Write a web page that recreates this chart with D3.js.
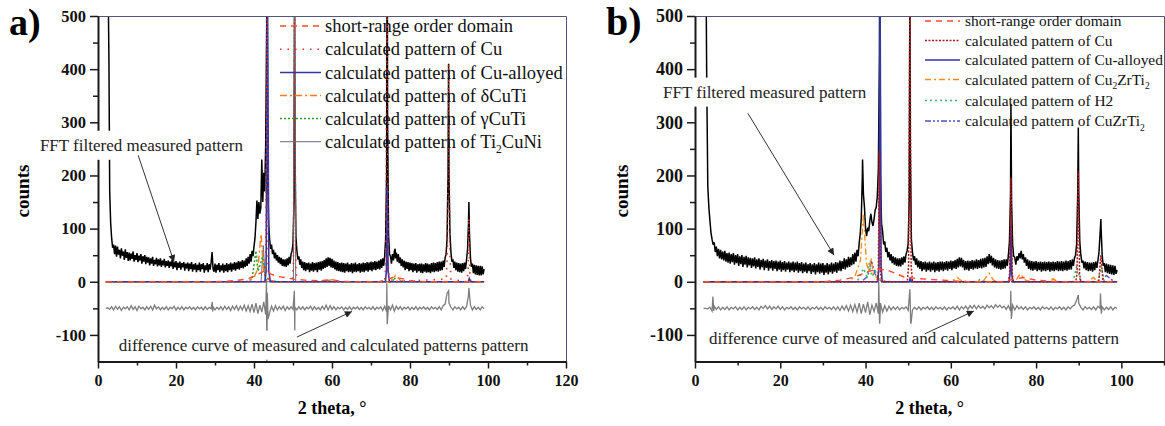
<!DOCTYPE html>
<html>
<head>
<meta charset="utf-8">
<script src="https://cdn.jsdelivr.net/npm/d3@7"></script>
<style>
body { margin: 0; background: #fff; }
svg { display: block; font-family: "Liberation Serif", "Times New Roman", serif; }
</style>
</head>
<body>
<svg id="chart"></svg>
<script>
// ---- panel a: measured pattern, 0.25 deg grid from 3.0 deg (one row = 5 deg), plus peak apexes ----
var aMeasured = [
    170, 110, 82, 64, 70, 52, 68, 47, 66, 51, 60, 44, 63, 49, 57, 41, 61, 45, 56, 39,
    55, 40, 53, 43, 57, 38, 50, 41, 54, 37, 49, 40, 52, 34, 48, 38, 50, 33, 47, 36,
    46, 31, 44, 34, 47, 30, 41, 33, 45, 29, 42, 31, 44, 28, 40, 31, 43, 27, 39, 30,
    40, 26, 38, 29, 41, 24, 37, 27, 39, 22, 36, 26, 38, 23, 35, 27, 37, 21, 34, 25,
    36, 20, 34, 24, 37, 19, 33, 23, 35, 18, 32, 22, 36, 19, 33, 24, 35, 17, 31, 22,
    35, 18, 33, 23, 36, 56, 24, 19, 34, 17, 32, 22, 35, 18, 31, 21, 34, 17, 32, 20,
    35, 18, 33, 22, 36, 19, 34, 23, 37, 21, 36, 24, 39, 23, 38, 26, 41, 25, 40, 28,
    44, 30, 47, 34, 52, 38, 58, 48, 66, 82, 112, 153, 118, 150, 128, 140, 230, 150, 205, 170,
    260, 480, 200, 110, 80, 62, 70, 52, 60, 44, 55, 40, 50, 36, 47, 33, 45, 30, 42, 29,
    42, 28, 44, 31, 47, 34, 52, 58, 72, 150, 260, 85, 58, 42, 48, 32, 42, 26, 38, 22,
    37, 20, 35, 23, 36, 18, 34, 21, 37, 19, 35, 22, 36, 18, 37, 23, 38, 21, 39, 24,
    41, 26, 44, 28, 46, 30, 45, 27, 43, 26, 40, 23, 38, 21, 37, 20, 35, 19, 36, 18,
    35, 17, 34, 20, 36, 18, 33, 19, 35, 16, 34, 19, 36, 18, 33, 20, 35, 17, 34, 19,
    36, 18, 35, 21, 37, 19, 36, 22, 38, 20, 37, 23, 39, 22, 38, 24, 40, 23, 42, 26,
    44, 30, 48, 80, 200, 300, 90, 52, 48, 34, 52, 40, 58, 44, 55, 38, 52, 35, 46, 30,
    42, 27, 40, 22, 38, 24, 37, 20, 36, 22, 35, 18, 34, 21, 35, 17, 33, 20, 34, 17,
    34, 16, 33, 19, 35, 17, 34, 18, 33, 16, 35, 19, 36, 18, 35, 20, 37, 19, 38, 21,
    38, 22, 40, 28, 45, 52, 80, 200, 200, 90, 55, 38, 42, 26, 38, 22, 36, 19, 35, 18,
    34, 17, 35, 20, 36, 24, 42, 60, 110, 90, 45, 28, 34, 16, 32, 14, 31, 13, 30, 12,
    30, 12, 29, 14, 24
];
var aMeasuredPeaks = [[2.6, 560], [2.8, 420], [43.3, 560], [43.4, 560], [50.4, 560], [74.1, 560],
    [74.2, 540], [76.2, 62], [89.9, 410], [95.1, 150]];

// difference curve, 0.5 deg grid from 2.0 deg, plus spikes
var aDiff = [
    -50, -49, -52, -47, -53, -46, -52, -47, -54, -48,
    -51, -47, -53, -45, -52, -47, -54, -46, -51, -48,
    -53, -47, -52, -46, -53, -44, -51, -47, -53, -48,
    -52, -47, -53, -48, -51, -46, -53, -48, -52, -47,
    -53, -48, -51, -47, -52, -48, -53, -47, -51, -48,
    -53, -47, -52, -48, -51, -47, -53, -48, -52, -47,
    -53, -46, -52, -47, -54, -46, -52, -45, -54, -46,
    -53, -44, -55, -45, -56, -42, -58, -40, -60, -44,
    -57, -38, -62, -42, -58, -46, -55, -45, -53, -47,
    -52, -46, -54, -47, -52, -47, -52, -48, -53, -47,
    -52, -47, -53, -48, -51, -46, -53, -47, -52, -48,
    -53, -46, -52, -44, -53, -45, -52, -47, -53, -48,
    -51, -47, -53, -48, -52, -47, -53, -48, -51, -47,
    -52, -48, -53, -47, -51, -48, -52, -47, -53, -48,
    -51, -47, -54, -46, -56, -45, -53, -44, -55, -46,
    -52, -47, -53, -48, -51, -47, -53, -48, -52, -47,
    -53, -48, -51, -47, -52, -48, -53, -47, -51, -48,
    -52, -47, -53, -45, -42, -22, -40, -48, -53, -47,
    -51, -48, -53, -47, -52, -47, -25, -44, -53, -47,
    -52, -48, -53, -47, -51
];
var aDiffSpikes = [[29.3, -38], [29.4, -56], [43.1, -30], [43.2, 5], [43.3, -165], [43.4, -20],
    [43.6, -70], [50.35, -17], [50.45, -92], [74.05, -3], [74.15, -80], [89.9, -17], [95.1, -12]];

// calculated patterns, panel a
var aShortRange = [[2, 0], [30, 0], [35, 2], [38, 5], [40, 10], [41.5, 16], [42.5, 20], [43.5, 18],
    [44.5, 14], [46, 10], [48, 8], [50, 5], [53, 3], [57, 2], [60, 4], [62, 1], [66, 0], [72, 0],
    [74, 4], [76, 9], [78, 6], [80, 2], [84, 0], [99, 0]];
var aCu = [[2, 0], [42.7, 0], [43.0, 30], [43.3, 560], [43.6, 30], [43.9, 0], [49.8, 0], [50.1, 30],
    [50.4, 560], [50.7, 30], [51.0, 0], [73.5, 0], [73.8, 30], [74.1, 560], [74.4, 30], [74.7, 0],
    [89.3, 5], [89.6, 60], [89.9, 410], [90.2, 60], [90.5, 5], [94.6, 0], [94.9, 20], [95.1, 120],
    [95.3, 20], [95.6, 0], [99, 0]];
var aCuAlloyed = [[2, 0], [42.8, 0], [43.1, 20], [43.45, 560], [43.8, 20], [44.2, 0], [73.7, 0],
    [73.95, 20], [74.15, 180], [74.4, 20], [74.7, 0], [94.9, 0], [95.2, 6], [95.5, 0], [99, 0]];
var aDeltaCuTi = [[2, 0], [38, 0], [40, 8], [41, 25], [41.8, 90], [42.4, 25], [43, 10], [44, 3],
    [46, 0], [58, 0], [60, 4], [62, 0], [75, 0], [76.3, 12], [77.5, 3], [79, 0], [99, 0]];
var aGammaCuTi = [[2, 0], [38, 0], [39.5, 5], [40.5, 58], [41.0, 20], [41.5, 30], [42.3, 50],
    [42.8, 12], [44, 2], [46, 0], [57, 0], [58, 3], [59, 0], [75.5, 0], [76, 8], [76.5, 0], [99, 0]];
var aTi2CuNi = [[2, 0], [41.8, 0], [42.4, 68], [42.9, 0], [50.1, 0], [50.4, 560], [50.7, 0], [99, 0]];

// ---- panel b ----
var bMeasured = [
    180, 140, 115, 92, 80, 70, 74, 56, 66, 48, 62, 44, 60, 42, 57, 40, 58, 38, 54, 36,
    55, 34, 52, 37, 54, 32, 50, 35, 52, 30, 48, 33, 50, 28, 47, 32, 49, 27, 46, 31,
    45, 26, 44, 29, 46, 25, 42, 28, 44, 23, 41, 27, 43, 22, 40, 26, 42, 21, 39, 25,
    41, 21, 39, 24, 40, 20, 38, 23, 40, 19, 37, 22, 39, 19, 36, 23, 38, 18, 36, 21,
    38, 18, 36, 21, 38, 17, 35, 20, 37, 16, 34, 19, 36, 16, 33, 20, 35, 15, 33, 18,
    35, 14, 33, 18, 36, 15, 34, 17, 35, 13, 32, 17, 35, 14, 33, 18, 36, 15, 34, 19,
    37, 17, 36, 21, 40, 20, 39, 24, 44, 23, 42, 27, 47, 28, 46, 31, 52, 33, 55, 38,
    60, 48, 72, 90, 120, 200, 165, 140, 100, 86, 102, 95, 115, 128, 112, 105, 118, 135, 140, 160,
    210, 420, 200, 110, 95, 70, 76, 56, 64, 46, 56, 40, 52, 35, 48, 32, 46, 30, 44, 29,
    44, 29, 46, 32, 48, 36, 52, 58, 72, 160, 250, 80, 56, 40, 48, 32, 44, 27, 40, 24,
    39, 20, 37, 23, 38, 19, 36, 22, 38, 19, 36, 22, 38, 18, 36, 21, 37, 19, 38, 22,
    38, 20, 37, 23, 39, 21, 38, 24, 40, 22, 39, 25, 41, 24, 43, 27, 46, 29, 45, 27,
    41, 22, 39, 23, 40, 21, 39, 24, 41, 23, 40, 25, 42, 24, 41, 26, 43, 25, 44, 27,
    45, 28, 48, 33, 52, 35, 49, 31, 45, 27, 42, 25, 41, 24, 40, 23, 41, 24, 42, 25,
    42, 30, 50, 75, 160, 150, 70, 48, 46, 32, 48, 40, 54, 44, 58, 42, 52, 36, 46, 30,
    42, 24, 40, 22, 39, 21, 38, 23, 39, 20, 37, 22, 38, 19, 37, 21, 38, 20, 37, 22,
    38, 19, 37, 21, 38, 20, 37, 22, 39, 20, 38, 21, 39, 20, 38, 22, 40, 21, 39, 23,
    41, 23, 42, 30, 45, 50, 70, 160, 170, 75, 50, 36, 40, 25, 38, 22, 37, 20, 36, 21,
    36, 19, 37, 22, 38, 26, 40, 55, 90, 100, 50, 30, 35, 18, 34, 16, 33, 15, 32, 14,
    31, 13, 30, 15, 22
];
var bMeasuredPeaks = [[2.6, 560], [2.75, 380], [39.3, 230], [43.3, 560], [43.4, 560], [50.4, 560],
    [74.1, 335], [89.9, 290], [95.2, 118]];

var bDiff = [
    -50, -50, -51, -48, -55, -46, -52, -47, -53, -48,
    -52, -47, -53, -48, -51, -47, -53, -48, -52, -47,
    -53, -48, -51, -47, -52, -48, -53, -46, -50, -45,
    -51, -46, -52, -47, -51, -46, -52, -47, -53, -48,
    -51, -47, -52, -48, -53, -47, -51, -48, -52, -47,
    -53, -48, -51, -47, -52, -48, -53, -47, -51, -48,
    -52, -47, -53, -47, -54, -46, -53, -45, -55, -44,
    -56, -43, -57, -40, -60, -42, -58, -38, -62, -44,
    -56, -40, -60, -44, -57, -45, -55, -46, -53, -47,
    -52, -47, -53, -48, -51, -47, -54, -46, -53, -48,
    -52, -47, -53, -48, -51, -47, -52, -48, -53, -47,
    -51, -48, -52, -47, -53, -48, -51, -47, -52, -46,
    -53, -47, -51, -46, -52, -45, -50, -44, -51, -45,
    -50, -46, -51, -44, -49, -45, -50, -43, -48, -44,
    -49, -46, -52, -45, -55, -44, -53, -45, -51, -47,
    -52, -47, -53, -48, -51, -47, -52, -48, -53, -47,
    -51, -48, -52, -47, -53, -48, -51, -47, -52, -48,
    -53, -47, -51, -46, -44, -35, -40, -48, -53, -47,
    -51, -48, -52, -47, -53, -46, -50, -47, -53, -48,
    -52, -47, -53, -48, -50
];
var bDiffSpikes = [[4.2, -28], [4.4, -55], [43.1, 0], [43.3, -83], [43.5, -40], [50.4, -14],
    [50.6, -83], [74.05, -17], [74.2, -70], [89.9, -25], [95.1, -22], [95.3, -60]];

var bShortRange = [[2, 0], [30, 0], [34, 3], [37, 8], [39, 14], [41, 20], [43, 24], [45, 22], [47, 16],
    [49, 9], [52, 6], [56, 4], [60, 2], [64, 0], [72, 0], [75, 5], [77, 8], [80, 3], [85, 0], [99, 0]];
var bCu = [[2, 0], [42.7, 0], [43.0, 20], [43.25, 246], [43.5, 20], [43.8, 0], [49.8, 0], [50.1, 30],
    [50.4, 560], [50.7, 30], [51.0, 0], [73.5, 0], [73.8, 15], [74.1, 196], [74.4, 15], [74.7, 0],
    [89.3, 0], [89.6, 15], [89.9, 208], [90.2, 15], [90.5, 0], [94.7, 0], [95.2, 50], [95.7, 0], [99, 0]];
var bCuAlloyed = [[2, 0], [42.9, 0], [43.15, 30], [43.4, 560], [43.65, 30], [43.9, 0], [50.3, 0],
    [50.5, 8], [50.7, 0], [73.7, 0], [73.9, 15], [74.1, 109], [74.3, 15], [74.5, 0], [99, 0]];
var bCu2ZrTi2 = [[2, 0], [36, 0], [37.5, 10], [38.8, 40], [39.5, 128], [40.2, 35], [40.8, 20],
    [41.3, 45], [41.8, 15], [42.5, 8], [44, 3], [46, 0], [60, 0], [61.5, 8], [62.5, 2], [64, 0],
    [67.5, 0], [69, 16], [70, 3], [71, 0], [75, 0], [76.3, 15], [77.5, 3], [79, 0], [83, 0],
    [84, 6], [85, 0], [92, 0], [93.5, 8], [94.5, 0], [99, 0]];
var bH2 = [[2, 0], [38, 0], [39.5, 25], [40.3, 10], [40.8, 35], [41.5, 10], [42.3, 20], [43, 5],
    [44, 0], [66, 0], [67, 5], [68, 0], [88.7, 0], [89.5, 30], [90.3, 5], [91, 0], [94.5, 0],
    [95.3, 30], [96, 0], [99, 0]];
var bCuZrTi2 = [[2, 0], [39, 0], [40.5, 10], [41.4, 40], [42.2, 15], [43, 5], [44, 0], [95, 0],
    [96.5, 12], [97.5, 5], [98.5, 0], [99, 0]];

// tick values
var yMajor = [-100, 0, 100, 200, 300, 400, 500];
var yMinor = [-50, 50, 150, 250, 350, 450];
var aXMajor = [0, 20, 40, 60, 80, 100, 120];
var bXMajor = [0, 20, 40, 60, 80, 100];
var xMinor = [10, 30, 50, 70, 90, 110];

// line styles
var st = {
    sro:   { color: '#ff4b2b', dash: '6,5', w: 1.4 },
    cuA:   { color: '#e0301a', dash: '1.5,6', w: 1.6 },
    cuB:   { color: '#a81818', dash: '2,1.5', w: 1.5 },
    alloy: { color: '#3535a8', dash: null, w: 1.6 },
    delta: { color: '#ff7a1a', dash: '7,3,2,3', w: 1.4 },
    gamma: { color: '#25a025', dash: '2,2', w: 1.5 },
    ti2:   { color: '#6b6b82', dash: null, w: 1 },
    cu2zr: { color: '#ff8c1a', dash: '6,3,2,3', w: 1.4 },
    h2:    { color: '#35b860', dash: '2,3', w: 1.5 },
    cuzr:  { color: '#5252c2', dash: '6,2,2,2,2,2', w: 1.4 }
};

function toPoints(grid, start, step, extra) {
    return grid.map((v, i) => [start + i * step, v]).concat(extra).sort((p, q) => p[0] - q[0]);
}

var svg = d3.select('#chart').attr('width', 1165).attr('height', 426);

var defs = svg.append('defs');
defs.append('marker').attr('id', 'arrow')
    .attr('viewBox', '0 0 10 10').attr('refX', 10).attr('refY', 5)
    .attr('markerUnits', 'userSpaceOnUse').attr('markerWidth', 9).attr('markerHeight', 7)
    .attr('orient', 'auto')
    .append('path').attr('d', 'M0,0L10,5L0,10z').attr('fill', '#222');

function richText(sel, parts, size) {
    let shift = 0;
    parts.forEach(p => {
        let sub = Array.isArray(p), target = sub ? size * 0.3 : 0;
        sel.append('tspan')
            .attr('dy', target - shift)
            .attr('font-size', sub ? size * 0.62 : size)
            .text(sub ? p[0] : p);
        shift = target;
    });
}

var panels = [{
    id: 'a', left: 98, right: 566, xMax: 120, xMajor: aXMajor, yFont: 16.5,
    tag: 'a)', tagX: 9, tagSize: 38, countsX: 22,
    measured: toPoints(aMeasured, 3, 0.25, aMeasuredPeaks),
    diff: toPoints(aDiff, 2, 0.5, aDiffSpikes),
    series: [
        { data: aTi2CuNi, s: st.ti2, label: ['calculated pattern of Ti', ['2'], 'CuNi'] },
        { data: aGammaCuTi, s: st.gamma, label: ['calculated pattern of \u03b3CuTi'] },
        { data: aDeltaCuTi, s: st.delta, label: ['calculated pattern of \u03b4CuTi'] },
        { data: aCuAlloyed, s: st.alloy, label: ['calculated pattern of Cu-alloyed'] },
        { data: aCu, s: st.cuA, label: ['calculated pattern of Cu'] },
        { data: aShortRange, s: st.sro, label: ['short-range order domain'] }
    ],
    legend: { x0: 280, x1: 321, tx: 325, rows: [26, 49.3, 72.5, 95.5, 118.5, 141.7], size: 18.5 },
    fft: { at: [-14.9, 257], from: [10.3, 238], to: [19.5, 37] },
    dif: { at: [5.3, -119], from: [51.0, -104], to: [65.1, -56] }
}, {
    id: 'b', left: 695, right: 1164, xMax: 110, xMajor: bXMajor, yFont: 18,
    tag: 'b)', tagX: 606, tagSize: 40, countsX: 621,
    measured: toPoints(bMeasured, 3, 0.25, bMeasuredPeaks),
    diff: toPoints(bDiff, 2, 0.5, bDiffSpikes),
    series: [
        { data: bCuZrTi2, s: st.cuzr, label: ['calculated pattern of CuZrTi', ['2']] },
        { data: bH2, s: st.h2, label: ['calculated pattern of H2'] },
        { data: bCu2ZrTi2, s: st.cu2zr, label: ['calculated pattern of Cu', ['2'], 'ZrTi', ['2']] },
        { data: bCuAlloyed, s: st.alloy, label: ['calculated pattern of Cu-alloyed'] },
        { data: bCu, s: st.cuB, label: ['calculated pattern of Cu'] },
        { data: bShortRange, s: st.sro, label: ['short-range order domain'] }
    ],
    legend: { x0: 925, x1: 960, tx: 965, rows: [21, 40.5, 60, 79.5, 100.5, 121], size: 15.4 },
    fft: { at: [-7.5, 357], from: [12.4, 317], to: [32.6, 50] },
    dif: { at: [3.3, -106], from: [53.9, -98], to: [65.4, -55] }
}];

panels.forEach(p => {
    let top = 16, bottom = 361.5,
        x = d3.scaleLinear().domain([0, p.xMax]).range([p.left, p.right]),
        y = d3.scaleLinear().domain([-150, 500]).range([bottom, top]),
        g = svg.append('g'),
        line = d3.line().x(d => x(d[0])).y(d => y(d[1]));

    defs.append('clipPath').attr('id', 'clip-' + p.id)
        .append('rect').attr('x', p.left).attr('y', top)
        .attr('width', p.right - p.left).attr('height', bottom - top);

    let plot = g.append('g').attr('clip-path', 'url(#clip-' + p.id + ')');

    plot.append('path').attr('d', line(p.measured))
        .attr('fill', 'none').attr('stroke', '#000').attr('stroke-width', 1.5)
        .attr('stroke-linejoin', 'bevel');
    plot.append('path').attr('d', line(p.diff))
        .attr('fill', 'none').attr('stroke', '#7d7d7d').attr('stroke-width', 1.3);

    p.series.forEach(s => {
        plot.append('path').attr('d', line(s.data))
            .attr('fill', 'none').attr('stroke', s.s.color)
            .attr('stroke-width', s.s.w).attr('stroke-dasharray', s.s.dash);
    });

    // frame (top, right)
    g.append('path').attr('d', 'M' + p.left + ',' + (top + 0.5) + 'H' + (p.right + 0.5) + 'V' + bottom)
        .attr('fill', 'none').attr('stroke', '#55557a').attr('stroke-width', 1);

    // axes
    let yAxis = g.append('g').attr('transform', 'translate(' + p.left + ',0)')
        .call(d3.axisLeft(y).tickValues(yMajor).tickSize(8).tickSizeOuter(0).tickPadding(4)
            .tickFormat(d => String(d)));
    g.append('g').attr('transform', 'translate(' + p.left + ',0)')
        .call(d3.axisLeft(y).tickValues(yMinor).tickSize(5).tickFormat(''))
        .call(a => a.select('.domain').remove());
    let xAxis = g.append('g').attr('transform', 'translate(0,' + bottom + ')')
        .call(d3.axisBottom(x).tickValues(p.xMajor).tickSize(7).tickSizeOuter(0).tickPadding(6));
    g.append('g').attr('transform', 'translate(0,' + bottom + ')')
        .call(d3.axisBottom(x).tickValues(xMinor).tickSize(4).tickFormat(''))
        .call(a => a.select('.domain').remove());

    g.selectAll('.domain').attr('stroke', '#1a1a1a').attr('stroke-width', 2);
    g.selectAll('.tick line').attr('stroke', '#1a1a1a').attr('stroke-width', 1.5);
    yAxis.selectAll('text').attr('font-weight', 'bold').attr('font-size', p.yFont).attr('fill', '#111');
    xAxis.selectAll('text').attr('font-weight', 'bold').attr('font-size', 16).attr('fill', '#111');
    g.selectAll('g').attr('font-family', null).attr('font-size', null);

    // titles
    g.append('text').attr('x', (p.left + p.right) / 2).attr('y', 414)
        .attr('text-anchor', 'middle').attr('font-weight', 'bold').attr('font-size', 18)
        .text('2 theta, \u00b0');
    g.append('text').attr('transform', 'translate(' + p.countsX + ',191) rotate(-90)')
        .attr('text-anchor', 'middle').attr('dy', '0.35em')
        .attr('font-weight', 'bold').attr('font-size', 19).text('counts');
    g.append('text').attr('x', p.tagX).attr('y', 35)
        .attr('font-weight', 'bold').attr('font-size', p.tagSize).text(p.tag);

    // legend (listed top to bottom, drawn in reverse)
    let lg = g.append('g');
    p.series.slice().reverse().forEach((s, i) => {
        let ry = p.legend.rows[i];
        lg.append('line').attr('x1', p.legend.x0).attr('x2', p.legend.x1)
            .attr('y1', ry).attr('y2', ry)
            .attr('stroke', s.s.color).attr('stroke-width', s.s.w)
            .attr('stroke-dasharray', s.s.dash);
        let t = lg.append('text').attr('x', p.legend.tx).attr('y', ry + p.legend.size * 0.33)
            .attr('fill', '#111');
        richText(t, s.label, p.legend.size);
    });

    // annotations with white boxes
    [[p.fft, 'FFT filtered measured pattern'],
     [p.dif, 'difference curve of measured and calculated patterns pattern']].forEach(a => {
        let ag = g.append('g'),
            box = ag.append('rect').attr('fill', '#fff'),
            t = ag.append('text').attr('x', x(a[0].at[0])).attr('y', y(a[0].at[1]))
                .attr('dy', '0.33em').attr('font-size', 17).attr('fill', '#222').text(a[1]);
        let bb = t.node().getBBox();
        box.attr('x', bb.x - 3).attr('y', bb.y - 5).attr('width', bb.width + 6).attr('height', bb.height + 10);
        ag.append('line')
            .attr('x1', x(a[0].from[0])).attr('y1', y(a[0].from[1]))
            .attr('x2', x(a[0].to[0])).attr('y2', y(a[0].to[1]))
            .attr('stroke', '#333').attr('stroke-width', 1)
            .attr('marker-end', 'url(#arrow)');
    });
});
</script>
</body>
</html>
